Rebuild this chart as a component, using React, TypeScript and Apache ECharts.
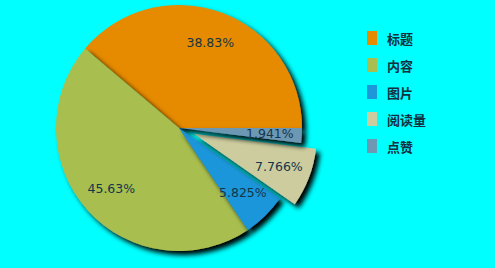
import React, { useEffect, useRef } from "react";
import * as echarts from "echarts";

const categories = ["标题", "内容", "图片", "阅读量", "点赞"];
const values = [40, 47, 6, 8, 2];
const colors = ["#E68A00", "#A8BE50", "#1E96DA", "#CCCC9E", "#6C98B4"];
const selectedName = "阅读量";

const total = values.reduce((a, b) => a + b, 0);

function truncPercent(v: number): string {
  const p = (v / total) * 100;
  const intDigits = Math.floor(Math.log10(p)) + 1;
  const dec = Math.max(0, 4 - intDigits);
  const f = Math.pow(10, dec);
  return (Math.floor(p * f + 1e-9) / f).toFixed(dec) + "%";
}

export default function App() {
  const ref = useRef<HTMLDivElement>(null);
  useEffect(() => {
    if (!ref.current) return;
    const chart = echarts.init(ref.current, null, { renderer: "svg" });
    const data = categories.map((name, i) => ({
      name,
      value: values[i],
      selected: name === selectedName,
      itemStyle: { color: colors[i] },
    }));
    const center = [179, 128];
    chart.setOption({
      animation: false,
      backgroundColor: "#00FFFF",
      legend: {
        orient: "vertical",
        left: 362,
        top: 26,
        itemWidth: 10,
        itemHeight: 14,
        itemGap: 13,
        icon: "rect",
        data: categories,
        textStyle: {
          fontSize: 13,
          fontWeight: "bold",
          color: "#12303F",
          fontFamily: "Noto Sans CJK SC",
          padding: [0, 0, 0, 5],
        },
      },
      series: [
        {
          type: "pie",
          center,
          radius: 123,
          startAngle: 0,
          clockwise: false,
          selectedMode: "single",
          selectedOffset: 16,
          label: { show: false },
          labelLine: { show: false },
          emphasis: { disabled: true },
          itemStyle: {
            borderWidth: 0,
            shadowColor: "#000000",
            shadowBlur: 5,
            shadowOffsetX: 4,
            shadowOffsetY: 4,
          },
          data,
        },
        {
          type: "pie",
          center,
          radius: [53, 123],
          startAngle: 0,
          clockwise: false,
          selectedMode: "single",
          selectedOffset: 16,
          silent: true,
          emphasis: { disabled: true },
          itemStyle: { color: "rgba(0,0,0,0)", borderWidth: 0 },
          label: {
            show: true,
            position: "inside",
            fontSize: 12.5,
            fontFamily: "DejaVu Sans",
            color: "#15354A",
            formatter: (p: any) => truncPercent(p.value),
          },
          labelLine: { show: false },
          data: data.map((d) => ({ name: d.name, value: d.value, selected: d.selected })),
        },
      ],
    });
    return () => chart.dispose();
  }, []);
  return (
    <div
      ref={ref}
      style={{ position: "absolute", left: 0, top: 0, width: 495, height: 268 }}
    />
  );
}
